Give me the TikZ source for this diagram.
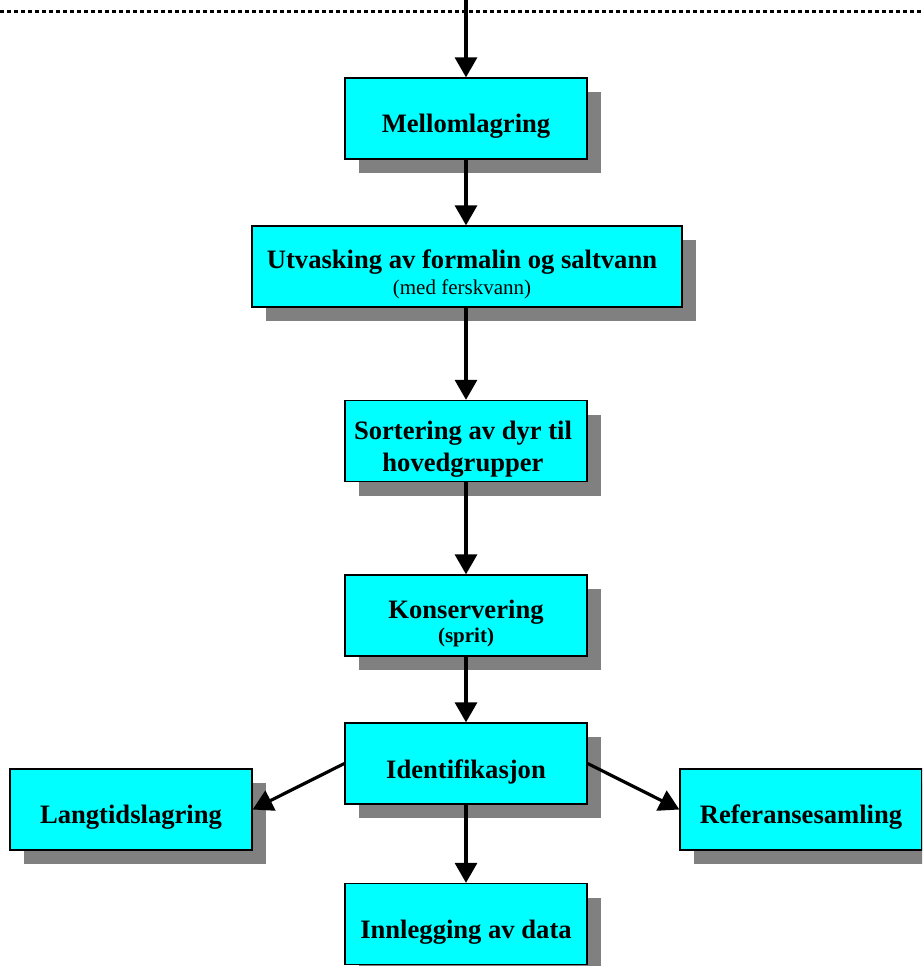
\documentclass[tikz,border=0pt]{standalone}
\usepackage{fontspec}
\setmainfont{Liberation Serif}
\usetikzlibrary{arrows.meta,shadows}
\definecolor{boxcyan}{HTML}{00FFFF}
\definecolor{shadowgray}{HTML}{808080}
\tikzset{
  flowbox/.style={rectangle, draw=black, line width=1.3pt, fill=boxcyan,
    minimum width=242pt, minimum height=81pt, inner sep=0pt,
    general shadow={fill=shadowgray, shadow xshift=14pt, shadow yshift=-14pt}},
  boxtext/.style={inner sep=0pt, align=center,
    font=\fontsize{26.6}{32}\selectfont\bfseries},
  flowarrow/.style={line width=3.2pt, -{Triangle[width=22pt,length=20pt]}}
}
\newcommand{\smalltxt}{\fontsize{21}{24}\selectfont}
\begin{document}
\begin{tikzpicture}[x=1pt,y=-1pt]
\useasboundingbox (0,0) rectangle (922,966);
\clip (0,0) rectangle (922,966);
\draw[line width=3.2pt, dash pattern=on 4pt off 3pt] (0,11.5) -- (922,11.5);
\coordinate (top) at (466,0);
\node[flowbox] (mel) at (466,118.5) {};
\node[flowbox, minimum width=430pt] (utv) at (467,266.5) {};
\node[flowbox] (sor) at (466,441) {};
\node[flowbox] (kon) at (466,615.5) {};
\node[flowbox] (ide) at (466,763.5) {};
\node[flowbox] (lan) at (131,809.5) {};
\node[flowbox] (ref) at (801,809.5) {};
\node[flowbox] (inn) at (466,924) {};
\node[boxtext] (mel-t) at ([yshift=-8pt]mel.center) {Mellomlagring};
\node[boxtext] (utv-t) at ([xshift=-5pt,yshift=-8pt]utv.center) {Utvasking av formalin og saltvann\\[-6pt]{\smalltxt\mdseries (med ferskvann)}};
\node[boxtext] (sor-t) at ([xshift=-3pt,yshift=-8pt]sor.center) {Sortering av dyr til\\hovedgrupper};
\node[boxtext] (kon-t) at ([yshift=-8pt]kon.center) {Konservering\\[-8pt]{\smalltxt (sprit)}};
\node[boxtext] (ide-t) at ([yshift=-8pt]ide.center) {Identifikasjon};
\node[boxtext] (lan-t) at ([yshift=-8pt]lan.center) {Langtidslagring};
\node[boxtext] (ref-t) at ([yshift=-8pt]ref.center) {Referansesamling};
\node[boxtext] (inn-t) at ([yshift=-8pt]inn.center) {Innlegging av data};
\draw[flowarrow] (top) -- (mel.north);
\draw[flowarrow] (mel.south) -- (mel.south |- utv.north);
\draw[flowarrow] (mel.south |- utv.south) -- (sor.north);
\draw[flowarrow] (sor.south) -- (kon.north);
\draw[flowarrow] (kon.south) -- (ide.north);
\draw[flowarrow] (ide.south) -- (inn.north);
\draw[flowarrow] (ide.west) -- (lan.east);
\draw[flowarrow] (ide.east) -- (ref.west);
\end{tikzpicture}
\end{document}
